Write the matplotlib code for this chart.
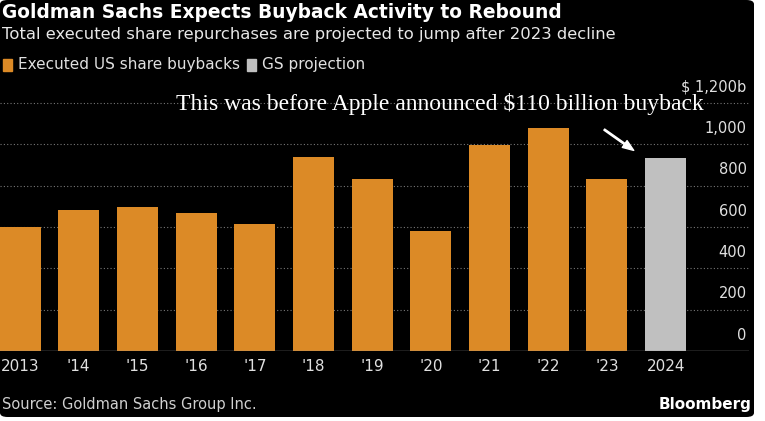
import matplotlib.pyplot as plt
from matplotlib.patches import FancyBboxPatch, Rectangle, FancyArrowPatch

years = ['2013', "'14", "'15", "'16", "'17", "'18", "'19", "'20", "'21", "'22", "'23", '2024']
buybacks = [600, 682, 697, 668, 614, 939, 832, 580, 997, 1079, 832, 934]
is_projection = [False] * 11 + [True]
yticks = [0, 200, 400, 600, 800, 1000, 1200]
ytick_labels = ['0', '200', '400', '600', '800', '1,000', '$ 1,200b']

orange = '#dc8a26'
grey = '#c0c0c0'
sans = 'DejaVu Sans'

fig = plt.figure(figsize=(7.65, 4.21), dpi=100, facecolor='white')
fig.patches.append(FancyBboxPatch((0, 4 / 421), 754 / 765, 1 - 4 / 421,
                                  boxstyle='round,pad=0,rounding_size=0.01',
                                  transform=fig.transFigure, facecolor='black',
                                  edgecolor='none', zorder=-10))

ax = fig.add_axes([0, 70 / 421, 749 / 765, 256 / 421])
ax.set_facecolor('black')
x = range(len(years))
ax.bar(x, buybacks, width=0.7,
       color=[grey if p else orange for p in is_projection], zorder=3)
ax.set_xlim(-0.34, 12.42)
ax.set_ylim(0, 1238)
for t in yticks[1:]:
    ax.axhline(t, color='#777777', lw=0.8, ls=(0, (1, 2)), zorder=1)
ax.axhline(0, color='#999999', lw=1, zorder=4)
for t, lab in zip(yticks, ytick_labels):
    ax.text(12.38, t + 40, lab, color='#e0e0e0', ha='right', va='bottom',
            fontsize=10.5, family=sans)
ax.set_xticks(list(x))
ax.set_xticklabels(years, color='#e0e0e0', fontsize=11, family=sans)
ax.tick_params(axis='x', length=0, pad=6)
ax.set_yticks([])
for s in ax.spines.values():
    s.set_visible(False)

fig.text(0.003, 1 - 12 / 421, 'Goldman Sachs Expects Buyback Activity to Rebound',
         color='white', fontsize=13.4, fontweight='bold', family=sans, va='center')
fig.text(0.003, 1 - 34 / 421, 'Total executed share repurchases are projected to jump after 2023 decline',
         color='#e8e8e8', fontsize=11.8, family=sans, va='center')
fig.patches.append(Rectangle((3 / 765, 1 - 71 / 421), 9 / 765, 12 / 421,
                             transform=fig.transFigure, color=orange))
fig.text(18 / 765, 1 - 65 / 421, 'Executed US share buybacks', color='#e0e0e0',
         fontsize=11, family=sans, va='center')
fig.patches.append(Rectangle((247 / 765, 1 - 71 / 421), 9 / 765, 12 / 421,
                             transform=fig.transFigure, color=grey))
fig.text(262 / 765, 1 - 65 / 421, 'GS projection', color='#e0e0e0',
         fontsize=11, family=sans, va='center')

fig.text(440 / 765, 1 - 104 / 421, 'This was before Apple announced $110 billion buyback',
         color='white', fontsize=17, family='Liberation Serif', ha='center', va='center')
fig.patches.append(FancyArrowPatch(
    (602 / 765, 1 - 128 / 421), (636 / 765, 1 - 152 / 421), transform=fig.transFigure,
    arrowstyle='simple,head_width=6,head_length=8,tail_width=1', color='white'))

fig.text(0.003, 1 - 405 / 421, 'Source: Goldman Sachs Group Inc.', color='#d0d0d0',
         fontsize=10.5, family=sans, va='center')
fig.text(752 / 765, 1 - 405 / 421, 'Bloomberg', color='white', fontsize=11,
         fontweight='bold', family=sans, ha='right', va='center')

fig.savefig('out.png', dpi=100, facecolor=fig.get_facecolor())
